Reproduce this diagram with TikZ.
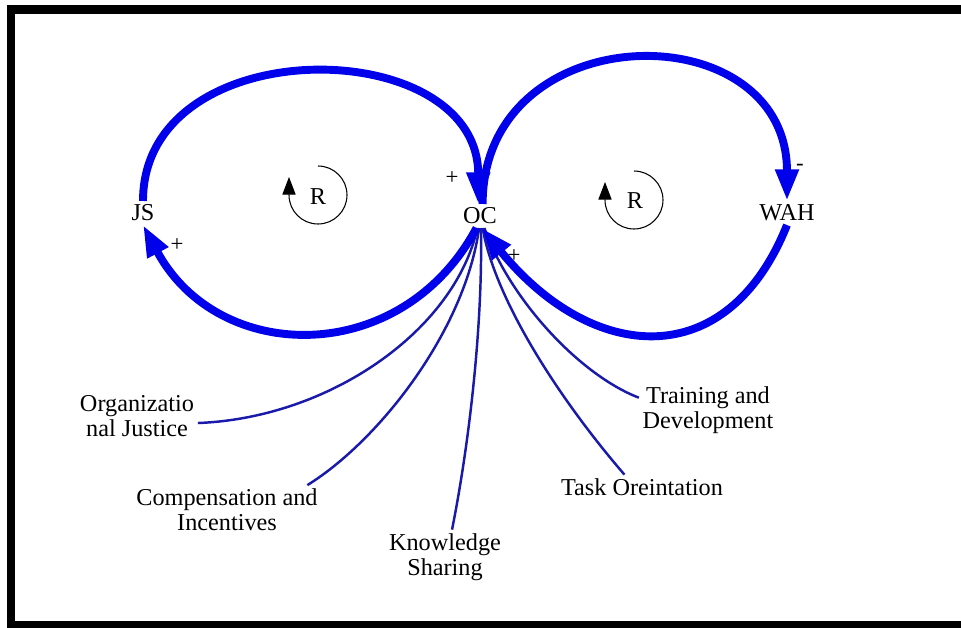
\documentclass[tikz,border=0pt]{standalone}
\usepackage{fontspec}
\setmainfont{Liberation Serif}
\usetikzlibrary{arrows.meta}
\definecolor{loopblue}{RGB}{0,0,235}
\definecolor{linkblue}{RGB}{25,25,170}

\begin{document}
\begin{tikzpicture}[x=0.02cm,y=-0.02cm,
  every node/.style={font=\fontsize{13.8}{14.2}\selectfont,inner sep=2pt},
  var/.style={align=center},
  lp/.style={-{Triangle[length=18pt,width=12.5pt]},loopblue,line width=4.5pt},
  inf/.style={linkblue,line width=1.4pt},
  pol/.style={font=\fontsize{13}{13}\selectfont},
  rl/.style={-{Triangle[length=10pt,width=7.5pt]},black,line width=0.6pt}]
\useasboundingbox (0,0) rectangle (961,628);
\draw[line width=4.6pt] (980,9.5) -- (11,9.5) -- (11,625) -- (980,625);

\node (JS) at (143,213) {JS};
\node (OC) at (480,216) {OC};
\node (WAH) at (787,213) {WAH};
\node (RL) at (318,197) {R};
\node (RR) at (635,201) {R};

\node[var] (orgj) at (137,416) {Organizatio\\nal Justice};
\node[var] (comp) at (227,510) {Compensation and\\Incentives};
\node[var] (know) at (445,557) {Knowledge\\Sharing};
\node[var] (task) at (642,487) {Task Oreintation};
\node[var] (train) at (708,410) {Training and\\Development};

\node[pol] (p1) at (452,178) {+};
\node[pol] (p2) at (177,245) {+};
\node[pol] (p3) at (800,167) {-};
\node[pol] (p4) at (514,256) {+};

% factors into OC
\draw[inf] ([yshift=-4pt]orgj.east) .. controls (330,418) and (455,330) .. ([xshift=-1.5pt]OC.south);
\draw[inf] ([xshift=-8pt]comp.north east) .. controls (380,440) and (465,330) .. ([xshift=-0.5pt]OC.south);
\draw[inf] ([xshift=4pt]know.north) .. controls (470,440) and (483,320) .. ([xshift=0.5pt]OC.south);
\draw[inf] ([xshift=-10pt]task.north) .. controls (560,400) and (495,300) .. ([xshift=1.5pt]OC.south);
\draw[inf] ([yshift=7pt]train.west) .. controls (580,375) and (510,300) .. ([xshift=2.5pt]OC.south);

% loops
\draw[lp] (JS.north) .. controls +(0,-172) and +(0,-172) .. ([xshift=-1pt]OC.north);
\draw[lp] ([xshift=-2pt]OC.south) .. controls +(-75,140) and +(75,140) .. (JS.south);
\draw[lp] ([xshift=1.5pt]OC.north) .. controls +(0,-190) and +(0,-190) .. (WAH.north);
\draw[lp] (WAH.south) .. controls +(-60,150) and +(110,135) .. ([xshift=1pt]OC.south);

\draw[rl] (RL) ++(0,-31) arc[start angle=-90,end angle=180,radius=29] -- ++(0,-18);
\draw[rl] (RR) ++(-1,-30) arc[start angle=-90,end angle=180,radius=29] -- ++(0,-18);
\end{tikzpicture}
\end{document}
